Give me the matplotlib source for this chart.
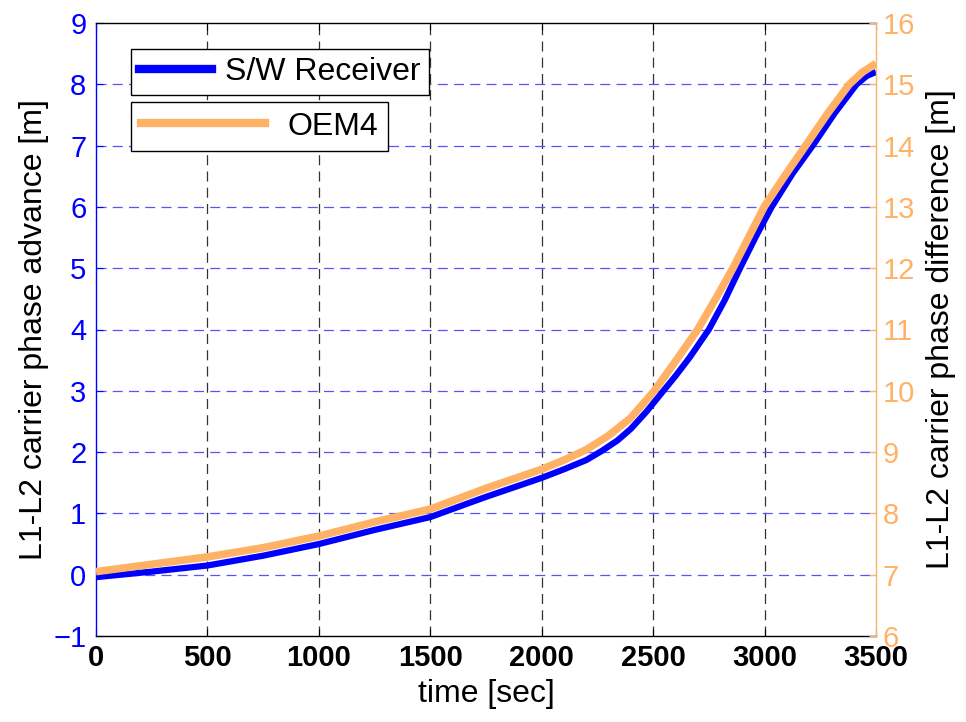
import matplotlib
matplotlib.use("Agg")
import matplotlib.pyplot as plt
from matplotlib.lines import Line2D

plt.rcParams['font.family'] = ['Liberation Sans', 'DejaVu Sans']

# S/W Receiver (left axis) samples
t_sw = [0, 250, 500, 750, 1000, 1250, 1500, 1750, 2000, 2100, 2200, 2270, 2340,
        2400, 2470, 2546, 2600, 2665, 2750, 2820, 2890, 2960, 3032, 3125, 3220,
        3315, 3413, 3460, 3500]
v_sw = [-0.04, 0.05, 0.15, 0.31, 0.50, 0.73, 0.94, 1.27, 1.58, 1.72, 1.87, 2.02, 2.19,
        2.38, 2.66, 3.0, 3.24, 3.55, 4.0, 4.47, 5.0, 5.51, 6.0, 6.54, 7.02,
        7.53, 8.0, 8.14, 8.2]

# OEM4 (right axis) samples
t_oem = [0, 250, 500, 750, 1000, 1250, 1500, 1750, 2000, 2100, 2200, 2300, 2400,
         2505, 2600, 2700, 2780, 2858, 2928, 2998, 3093, 3188, 3284, 3380, 3440, 3500]
v_oem = [7.05, 7.17, 7.29, 7.44, 7.63, 7.86, 8.07, 8.41, 8.72, 8.87, 9.04, 9.27, 9.56,
         10.0, 10.48, 11.0, 11.5, 12.0, 12.5, 13.0, 13.52, 14.02, 14.53, 15.0, 15.2, 15.34]

xticks = [0, 500, 1000, 1500, 2000, 2500, 3000, 3500]
yticks_left = list(range(-1, 10))
yticks_right = list(range(6, 17))

BLUE = '#0000FF'
ORANGE = '#FFB266'
GRIDBLUE = '#5555FF'

fig = plt.figure(figsize=(9.66, 7.22), dpi=100)
ax1 = fig.add_axes([96/966, 1-636/722, (876-96)/966, (636-23)/722])
ax2 = ax1.twinx()

ax1.plot(t_sw, v_sw, color=BLUE, lw=4.5, solid_capstyle='butt',
         solid_joinstyle='round', zorder=3)
ax2.plot(t_oem, v_oem, color=ORANGE, lw=5.5, solid_capstyle='butt',
         solid_joinstyle='round', zorder=3)

ax1.set_xlim(0, 3500)
ax1.set_ylim(-1, 9)
ax2.set_ylim(6, 16)
ax1.set_xticks(xticks)
ax1.set_yticks(yticks_left)
ax2.set_yticks(yticks_right)

fs_tick = 21
fs_lab = 22
ax1.tick_params(axis='x', direction='in', length=5, width=0.8, colors='black',
                labelsize=fs_tick, pad=6, top=True)
ax1.tick_params(axis='y', direction='in', length=5, width=0.8, colors=BLUE,
                labelsize=fs_tick, pad=7, right=True, labelright=False)
ax2.tick_params(axis='y', direction='in', length=5, width=0.8, colors=ORANGE,
                labelsize=fs_tick, pad=5)

for lab in ax1.get_xticklabels():
    lab.set_fontweight('bold')

# grid
for x in xticks[1:-1]:
    ax1.axvline(x, color='#333333', lw=0.9, dashes=(8, 5), zorder=1)
for y in yticks_left[1:-1]:
    ax1.axhline(y, color=GRIDBLUE, lw=0.9, dashes=(8, 5), zorder=1)

ax1.spines['left'].set_color(BLUE)
ax1.spines['right'].set_visible(False)
ax2.spines['left'].set_visible(False)
ax2.spines['right'].set_color(ORANGE)
for sp in ['top', 'bottom']:
    ax1.spines[sp].set_color('black')
    ax2.spines[sp].set_visible(False)
for ax in (ax1, ax2):
    for sp in ax.spines.values():
        sp.set_linewidth(1.0)

ax1.set_xlabel('time [sec]', fontsize=fs_lab + 1, labelpad=5)
ax1.set_ylabel('L1-L2 carrier phase advance [m]', fontsize=fs_lab + 1,
               color='black', labelpad=3)
ax2.set_ylabel('L1-L2 carrier phase difference [m]', fontsize=fs_lab + 1,
               color='black', labelpad=8)

h1 = [Line2D([], [], color=BLUE, lw=6)]
h2 = [Line2D([], [], color=ORANGE, lw=6)]
leg1 = fig.legend(h1, ['S/W Receiver'], loc='upper left',
                  bbox_to_anchor=(131/966, 1-49/722), borderaxespad=0,
                  fancybox=False, edgecolor='black', framealpha=1, fontsize=fs_lab + 1,
                  handlelength=2.3, handletextpad=0.4, borderpad=0.25)
leg2 = fig.legend(h2, ['OEM4'], loc='upper left',
                  bbox_to_anchor=(131/966, 1-102/722), borderaxespad=0,
                  fancybox=False, edgecolor='black', framealpha=1, fontsize=fs_lab + 1,
                  handlelength=3.9, handletextpad=0.7, borderpad=0.3)
for lg in (leg1, leg2):
    lg.get_frame().set_linewidth(1.0)

fig.savefig('out.png', dpi=100)
